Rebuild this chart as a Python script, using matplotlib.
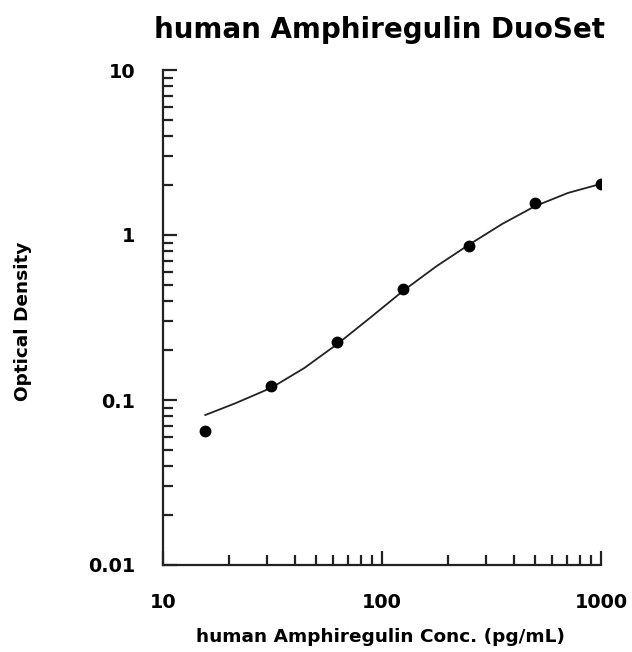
import matplotlib.pyplot as plt

# standard concentrations (pg/mL) and measured optical density
conc = [15.6, 31.25, 62.5, 125, 250, 500, 1000]
od = [0.065, 0.122, 0.225, 0.473, 0.857, 1.57, 2.04]

# fitted curve
fit_conc = [15.6, 21.3, 31.25, 44.2, 62.5, 88.4, 125, 177, 250, 354, 500, 707, 1000]
fit_od = [0.0811, 0.0953, 0.1186, 0.1563, 0.2183, 0.3155, 0.4592, 0.6457, 0.875,
          1.167, 1.496, 1.799, 2.042]

xticks = [10, 100, 1000]
xtick_labels = ["10", "100", "1000"]
yticks = [0.01, 0.1, 1, 10]
ytick_labels = ["0.01", "0.1", "1", "10"]

plt.rcParams['font.family'] = ['DejaVu Sans']

fig = plt.figure(figsize=(6.32, 6.52), dpi=100)
ax = fig.add_axes([163/632, 87/652, 438/632, 495/652])

ax.plot(fit_conc, fit_od, color="#222222", linewidth=1.3)
ax.plot(conc, od, "o", color="black", markersize=7.5)

ax.set_xscale("log")
ax.set_yscale("log")
ax.set_xlim(10, 1000)
ax.set_ylim(0.01, 10)

ax.set_xticks(xticks)
ax.set_xticklabels(xtick_labels)
ax.set_yticks(yticks)
ax.set_yticklabels(ytick_labels)

for s in ["top", "right"]:
    ax.spines[s].set_visible(False)
for s in ["left", "bottom"]:
    ax.spines[s].set_linewidth(1.6)
    ax.spines[s].set_color("#222222")

ax.tick_params(which="major", direction="in", length=10, width=1.6, color="#222222",
               labelsize=13.8, pad=20)
ax.tick_params(which="minor", direction="in", length=7, width=1.6, color="#222222")
for lab in ax.get_xticklabels() + ax.get_yticklabels():
    lab.set_fontweight("bold")

fig.text(379/632, 1 - 30/652, "human Amphiregulin DuoSet", ha="center", va="center",
         fontsize=20, fontweight="bold")
fig.text(380/632, 1 - 637/652, "human Amphiregulin Conc. (pg/mL)", ha="center", va="center",
         fontsize=13.3, fontweight="bold")
fig.text(23/632, 1 - 321/652, "Optical Density", ha="center", va="center",
         rotation=90, fontsize=13.3, fontweight="bold")

fig.savefig("out.png", dpi=100)
